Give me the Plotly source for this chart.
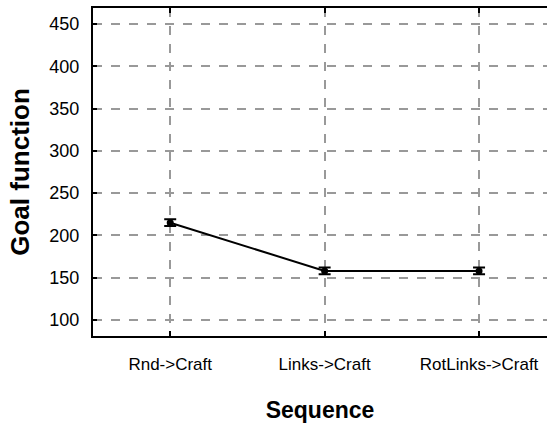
import plotly.graph_objects as go

# Mean goal function per sequence, with error-bar half widths
sequences = ["Rnd->Craft", "Links->Craft", "RotLinks->Craft"]
goal_mean = [215, 158, 158]
goal_err = [4, 4, 4]
y_ticks = [100, 150, 200, 250, 300, 350, 400, 450]

fig = go.Figure()
fig.add_trace(go.Scatter(
    x=[0, 1, 2],
    y=goal_mean,
    mode="lines+markers",
    line=dict(color="black", width=2),
    marker=dict(color="black", size=7, symbol="circle"),
    error_y=dict(type="data", array=goal_err, visible=True,
                 color="black", thickness=2, width=6),
    showlegend=False,
))

font_family = "Liberation Sans, Arial, sans-serif"
grid_style = dict(showgrid=True, gridcolor="#999999", gridwidth=2, griddash="dash")

fig.update_layout(
    width=548, height=425,
    margin=dict(l=93, r=1, t=8, b=89),
    paper_bgcolor="white", plot_bgcolor="white",
    font=dict(family=font_family, size=17, color="black"),
    xaxis=dict(
        range=[-0.5, 2.44],
        tickmode="array", tickvals=[0, 1, 2], ticktext=sequences,
        showline=True, linecolor="black", linewidth=2, mirror="ticks",
        ticks="inside", ticklen=5, tickwidth=2, tickcolor="black",
        ticklabelstandoff=12,
        zeroline=False,
        tickfont=dict(size=17),
        title=dict(text="<b>Sequence</b>", font=dict(size=23), standoff=28),
        **grid_style,
    ),
    yaxis=dict(
        range=[81, 469],
        tickmode="array", tickvals=y_ticks,
        showline=True, linecolor="black", linewidth=2,
        ticks="inside", ticklen=4, tickwidth=2, tickcolor="black",
        ticklabelstandoff=8,
        zeroline=False,
        tickfont=dict(size=18),
        title=dict(text="<b>Goal function</b>", font=dict(size=26), standoff=12),
        **grid_style,
    ),
)

fig.write_html("out.html")
